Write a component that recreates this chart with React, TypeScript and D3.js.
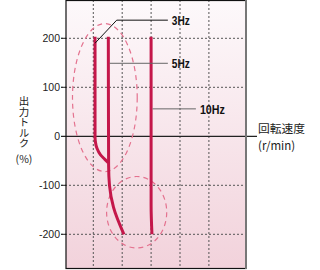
import React from "react";
import * as d3 from "d3";

const yTicks = [200, 100, -100, -200];
const xGrid = [1, 2, 3, 4, 5];

type P = { s: number; t: number };
const hz3: P[] = [
  { s: 1.06, t: 203 }, { s: 1.06, t: 0 }, { s: 1.07, t: -10 }, { s: 1.13, t: -25 },
  { s: 1.25, t: -38 }, { s: 1.4, t: -47 }, { s: 1.52, t: -54 },
];
const hz5: P[] = [
  { s: 1.52, t: 203 }, { s: 1.53, t: -60 }, { s: 1.56, t: -100 }, { s: 1.7, t: -145 }, { s: 2.06, t: -200 },
];
const hz10: P[] = [
  { s: 3.0, t: 203 }, { s: 3.0, t: -140 }, { s: 3.03, t: -200 },
];
const ellipses = [
  { s: 1.4, t: 79, rs: 1.12, rt: 151 },
  { s: 2.5, t: -155, rs: 1.04, rt: 73 },
];
const labels = [
  { text: "3Hz", pts: [{ s: 1.06, t: 190 }, { s: 1.81, t: 237 }, { s: 3.58, t: 237 }], w: 18, color: "#111" },
  { text: "5Hz", pts: [{ s: 1.56, t: 149 }, { s: 3.58, t: 149 }], w: 18, color: "#666" },
  { text: "10Hz", pts: [{ s: 3.05, t: 56 }, { s: 4.55, t: 56 }], w: 25, color: "#666" },
];
const yTitle = "出力トルク";

export default function App() {
  const W = 320, H = 270;
  const left = 66, right = 246, top = 0, bottom = 269;
  const x = d3.scaleLinear().domain([0, 1]).range([64.4, 93.3]);
  const y = d3.scaleLinear().domain([200, -200]).range([38.3, 234.3]);
  const line = d3.line<P>().x(d => x(d.s)).y(d => y(d.t)).curve(d3.curveMonotoneY);
  const straight = d3.line<P>().x(d => x(d.s)).y(d => y(d.t));
  const red = "#c4174a";
  return (
    <svg width={W} height={H} style={{ position: "absolute", left: 0, top: 0 }}>
      <defs>
        <linearGradient id="bg" x1="0" y1="0" x2="0" y2="1">
          <stop offset="0" stopColor="#fdf9fb" />
          <stop offset="1" stopColor="#f2d2db" />
        </linearGradient>
      </defs>
      <rect x={left} y={top} width={right - left} height={bottom - top} fill="url(#bg)" />
      {xGrid.map(g => (
        <line key={"xg" + g} x1={x(g)} x2={x(g)} y1={top} y2={bottom} stroke="#555" strokeWidth={1} strokeDasharray="2,2" />
      ))}
      {yTicks.map(t => (
        <g key={"yt" + t}>
          <line x1={left - 5} x2={right} y1={y(t)} y2={y(t)} stroke="#555" strokeWidth={1} strokeDasharray="2,2" />
          <line x1={left - 5} x2={left} y1={y(t)} y2={y(t)} stroke="#222" strokeWidth={1} />
          <text x={left - 6} y={y(t)} dy="0.36em" textAnchor="end" fontFamily="Liberation Sans, Arial, sans-serif" fontSize={10.5} fill="#222">{t}</text>
        </g>
      ))}
      <line x1={left - 5} x2={257} y1={y(0)} y2={y(0)} stroke="#222" strokeWidth={1.2} />
      <text x={left - 6} y={y(0)} dy="0.36em" textAnchor="end" fontFamily="Liberation Sans, Arial, sans-serif" fontSize={10.5} fill="#222">0</text>
      {ellipses.map((e, i) => (
        <ellipse key={"el" + i} cx={x(e.s)} cy={y(e.t)} rx={x(e.rs) - x(0)} ry={y(0) - y(e.rt)} fill="none" stroke="#e4728f" strokeWidth={1.2} strokeDasharray="5,4" />
      ))}
      {[hz3, hz5, hz10].map((d, i) => (
        <path key={"c" + i} d={line(d) || ""} fill="none" stroke={red} strokeWidth={3} strokeLinejoin="round" />
      ))}
      {labels.map(l => {
        const last = l.pts[l.pts.length - 1];
        return (
          <g key={l.text}>
            <path d={straight(l.pts) || ""} fill="none" stroke={l.color} strokeWidth={1} />
            <text x={x(last.s) + 4} y={y(last.t)} dy="0.36em" fontFamily="Liberation Sans, Arial, sans-serif" fontWeight="bold" fontSize={13} textLength={l.w} lengthAdjust="spacingAndGlyphs" fill="#111">{l.text}</text>
          </g>
        );
      })}
      <rect x={left} y={top + 0.5} width={right - left} height={bottom - top - 1} fill="none" stroke="#111" strokeWidth={1.2} />
      <line x1={right} x2={right} y1={top} y2={bottom} stroke="#777" strokeWidth={2} />
      <text x={24} y={96} fontFamily="Noto Sans CJK JP" fontSize={10.5} fill="#222" style={{ writingMode: "vertical-rl" }}>{yTitle}</text>
      <text x={24} y={159} dy="0.36em" textAnchor="middle" fontFamily="Noto Sans CJK JP" fontSize={10.5} fill="#222">(%)</text>
      <text x={258} y={129} dy="0.36em" fontFamily="Noto Sans CJK JP" fontSize={11.5} textLength={47} lengthAdjust="spacingAndGlyphs" fill="#222">回転速度</text>
      <text x={258} y={145.5} dy="0.36em" fontFamily="Noto Sans CJK JP" fontSize={11.5} fill="#222">(r/min)</text>
    </svg>
  );
}
